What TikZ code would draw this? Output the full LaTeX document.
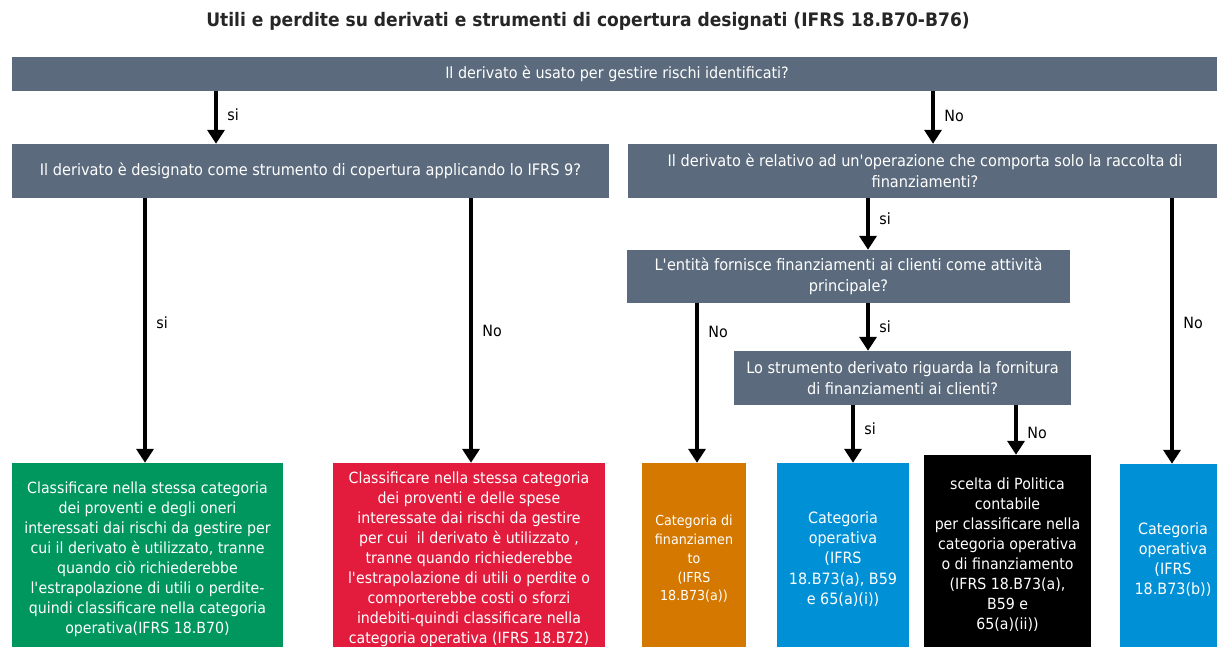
\documentclass[tikz,border=0pt]{standalone}
\usepackage{fontspec}
\setmainfont{DejaVu Sans}[FakeStretch=0.92]
\usetikzlibrary{arrows.meta,calc}
\definecolor{slate}{HTML}{5B6B7D}
\definecolor{grn}{HTML}{00975F}
\definecolor{rd}{HTML}{E31C3E}
\definecolor{org}{HTML}{D47800}
\definecolor{blu}{HTML}{0090D5}
\definecolor{ttl}{HTML}{262626}
\newcommand{\apo}{\textquotesingle}

\begin{document}
\begin{tikzpicture}[x=1pt,y=-1pt,
  q/.style={fill=slate, text=white, inner sep=0, align=center,
            font=\fontsize{15.8}{21}\selectfont},
  res/.style={inner sep=0, align=center, text=white,
              font=\fontsize{15.4}{20}\selectfont},
  arr/.style={line width=4pt, -{Triangle[width=17pt,length=14pt]}},
  lbl/.style={font=\fontsize{15.5}{17}\selectfont, right=6pt}
]
\clip (0,0) rectangle (1217,647);

% title
\node[font=\fontsize{18.6}{22}\selectfont\bfseries, text=ttl] (title) at (588,21)
  {Utili e perdite su derivati e strumenti di copertura designati (IFRS 18.B70-B76)};

% question boxes
\node[q, minimum width=1210pt, minimum height=34pt,
      font=\fontsize{15.6}{18}\selectfont] (top) at (617,74)
  {Il derivato è usato per gestire rischi identificati?};
\node[q, minimum width=597pt, minimum height=54pt] (b2l) at (310.5,171)
  {Il derivato è designato come strumento di copertura applicando lo IFRS 9?};
\node[q, minimum width=594pt, minimum height=54pt] (b2r) at (925,171)
  {Il derivato è relativo ad un\apo operazione che comporta solo la raccolta di\\finanziamenti?};
\node[q, minimum width=443pt, minimum height=53pt] (b3) at (848.5,276.5)
  {L\apo entità fornisce finanziamenti ai clienti come attività\\principale?};
\node[q, minimum width=337pt, minimum height=54pt] (b4) at (902.5,378)
  {Lo strumento derivato riguarda la fornitura\\di finanziamenti ai clienti?};

% outcome boxes
\node[res, fill=grn, minimum width=271pt, minimum height=192pt] (rg) at (147.5,559)
  {Classificare nella stessa categoria\\dei proventi e degli oneri\\interessati dai rischi da gestire per\\cui il derivato è utilizzato, tranne\\quando ciò richiederebbe\\l\apo estrapolazione di utili o perdite-\\quindi classificare nella categoria\\operativa(IFRS 18.B70)};
\node[res, fill=rd, minimum width=272pt, minimum height=192pt] (rr) at (469,559)
  {Classificare nella stessa categoria\\dei proventi e delle spese\\interessate dai rischi da gestire\\per cui\ \ il derivato è utilizzato~,\\tranne quando richiederebbe\\l\apo estrapolazione di utili o perdite o\\comporterebbe costi o sforzi\\indebiti-quindi classificare nella\\categoria operativa (IFRS 18.B72)};
\node[res, fill=org, minimum width=104pt, minimum height=192pt,
      font=\fontsize{13.8}{18.8}\selectfont] (ro) at (694,559)
  {Categoria di\\finanziamen\\to\\(IFRS\\18.B73(a))};
\node[res, fill=blu, minimum width=132pt, minimum height=192pt,
      font=\fontsize{15.6}{20.2}\selectfont] (rb1) at (843,559)
  {Categoria\\operativa\\(IFRS\\18.B73(a), B59\\e 65(a)(i))};
\node[res, fill=black, minimum width=167pt, minimum height=200pt] (rk) at (1007.5,555)
  {scelta di Politica\\contabile\\per classificare nella\\categoria operativa\\o di finanziamento\\(IFRS 18.B73(a),\\B59 e\\65(a)(ii))};
\node[res, fill=blu, minimum width=106pt, minimum height=191pt,
      font=\fontsize{15.6}{20}\selectfont] (rb2) at (1173,559.5)
  {Categoria\\operativa\\(IFRS\\18.B73(b))};

% arrow columns
\coordinate (x1) at (216,0);
\coordinate (x2) at (933,0);
\coordinate (x3) at (145,0);
\coordinate (x4) at (471,0);
\coordinate (x5) at (868,0);
\coordinate (x6) at (1172,0);
\coordinate (x7) at (697,0);
\coordinate (x8) at (853,0);
\coordinate (x9) at (1016,0);

% connectors
\draw[arr] (top.south -| x1) -- node[lbl, pos=0.45] (l1) {si} (b2l.north -| x1);
\draw[arr] (top.south -| x2) -- node[lbl, pos=0.48] (l2) {No} (b2r.north -| x2);
\draw[arr] (b2l.south -| x3) -- node[lbl, pos=0.47] (l3) {si} (rg.north -| x3);
\draw[arr] (b2l.south -| x4) -- node[lbl, pos=0.5] (l4) {No} (rr.north -| x4);
\draw[arr] (b2r.south -| x5) -- node[lbl, pos=0.4] (l5) {si} (b3.north -| x5);
\draw[arr] (b2r.south -| x6) -- node[lbl, pos=0.47] (l6) {No} (rb2.north -| x6);
\draw[arr] (b3.south -| x7) -- node[lbl, pos=0.18] (l7) {No} (ro.north -| x7);
\draw[arr] (b3.south -| x5) -- node[lbl, pos=0.5] (l8) {si} (b4.north -| x5);
\draw[arr] (b4.south -| x8) -- node[lbl, pos=0.4] (l9) {si} (rb1.north -| x8);
\draw[arr] (b4.south -| x9) -- node[lbl, pos=0.55] (l10) {No} (rk.north -| x9);
\end{tikzpicture}
\end{document}
